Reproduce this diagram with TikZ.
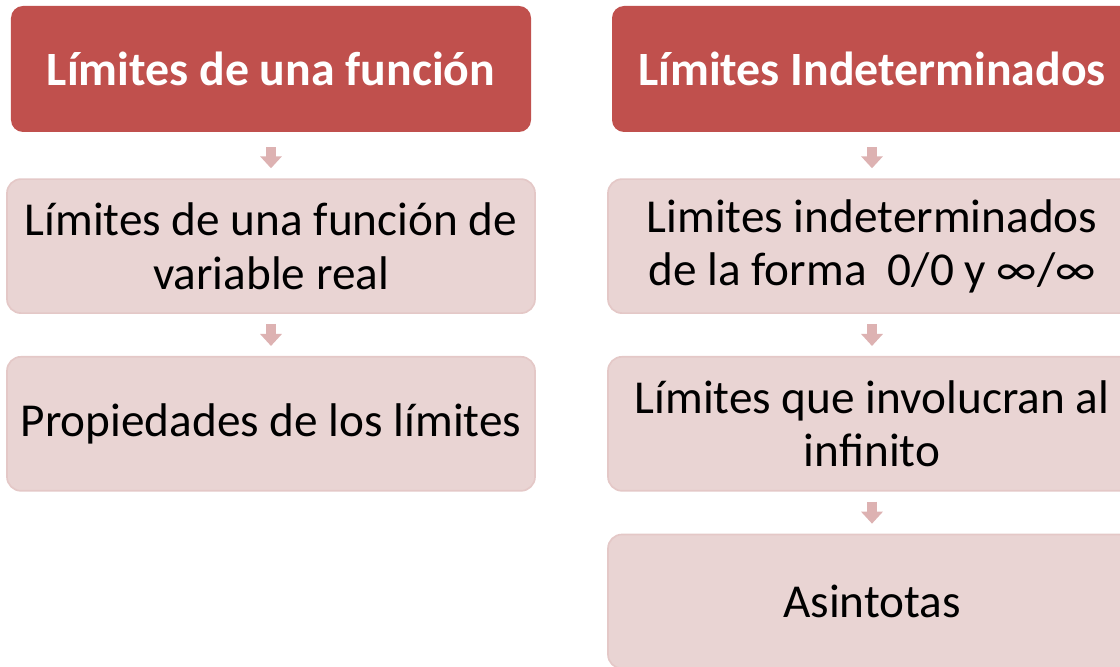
\documentclass[tikz,border=0pt]{standalone}
\usepackage{fontspec}
\setmainfont{Carlito}
\usepackage{tikz}
\usetikzlibrary{arrows.meta,positioning}
\definecolor{headred}{HTML}{C0504D}
\definecolor{boxpink}{HTML}{E9D4D3}
\definecolor{boxedge}{HTML}{E4C8C7}
\definecolor{arrowpink}{HTML}{DDB2B2}

\begin{document}
\begin{tikzpicture}[
    node distance=1.05cm,
    head/.style={fill=headred,rounded corners=0.3cm,minimum width=13cm,
                 minimum height=3.15cm,text centered,text=white,
                 font=\fontsize{34}{40}\selectfont\bfseries},
    item/.style={fill=boxpink,draw=boxedge,line width=1.2pt,rounded corners=0.35cm,
                 minimum width=13.2cm,minimum height=3.35cm,
                 align=center,font=\fontsize{33.6}{38}\selectfont},
    flow/.style={line width=0.25cm,draw=arrowpink,
                 -{Triangle[width=0.53cm,length=0.3cm]},
                 shorten >=0.25cm,shorten <=0.25cm}
  ]
    \clip (0,0) rectangle (28,16.65);
    % columna izquierda
    \node[head] (lim) at (6.775,14.925) {Límites de una función};
    \node[item,below=1.15cm of lim] (real) {Límites de una función de\\variable real};
    \node[item,below=of real] (prop) {Propiedades de los límites};
    % columna derecha
    \node[head] (ind) at (21.8,14.925) {Límites Indeterminados};
    \node[item,below=1.15cm of ind] (forma) {Limites indeterminados\\de la forma \ 0/0 y ∞/∞};
    \node[item,below=of forma] (inf) {Límites que involucran al\\infinito};
    \node[item,below=of inf] (asin) {Asintotas};
    \draw[flow,shorten <=0.38cm] (lim) -- (real);
    \draw[flow] (real) -- (prop);
    \draw[flow,shorten <=0.38cm] (ind) -- (forma);
    \draw[flow] (forma) -- (inf);
    \draw[flow] (inf) -- (asin);
  \end{tikzpicture}
\end{document}
